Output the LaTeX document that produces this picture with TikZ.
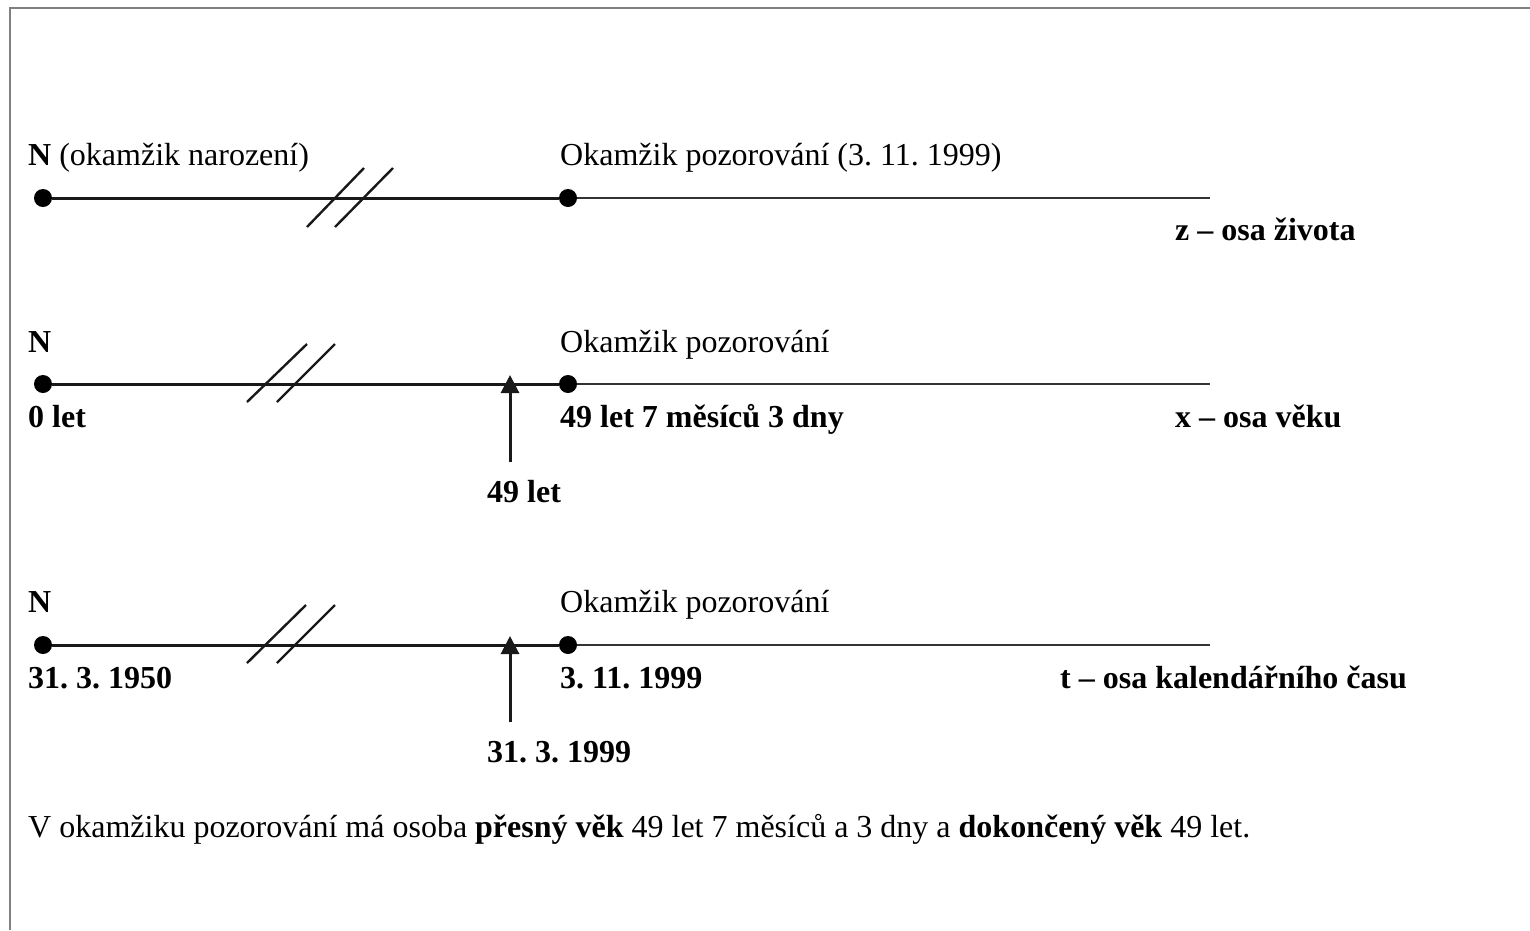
\documentclass[tikz,border=0pt]{standalone}
\usepackage{fontspec}
\setmainfont{Liberation Serif}
\usetikzlibrary{arrows.meta}
\frenchspacing
\begin{document}
\begin{tikzpicture}[x=1pt,y=-1pt,
  lbl/.style={anchor=base west,inner sep=0pt,font=\fontsize{32}{38}\selectfont},
  blbl/.style={anchor=base west,inner sep=0pt,font=\fontsize{32}{38}\selectfont\bfseries},
  dot/.style={circle,fill=black,minimum size=18pt,inner sep=0pt},
  axisL/.style={line width=3pt,black!90},
  axisR/.style={line width=2.6pt,black!80},
  brk/.style={line width=2.4pt,black!90},
  up/.style={line width=3pt,black!90,-{Triangle[length=18pt,width=18pt]}},
  frame/.style={line width=2pt,black!50}]
\useasboundingbox (0,0) rectangle (1530,930);
\draw[frame] (10,930) -- (10,8) -- (1530,8);

% ---- axis 1: z
\node[dot] (z0) at (43,198) {};
\node[dot] (z1) at (568,198) {};
\coordinate (zend) at (1210,198);
\draw[axisL] (z0) -- (z1);
\draw[axisR] (z1) -- (zend);
\draw[brk] (307,227) -- (364,168);
\draw[brk] (335,227) -- (393,168);
\node[lbl] (zN) at (28,165) {\textbf{N} (okamžik narození)};
\node[lbl] (zO) at (560,165) {Okamžik pozorování (3. 11. 1999)};
\node[blbl] (zax) at (1175,240) {z – osa života};

% ---- axis 2: x
\node[dot] (x0) at (43,384) {};
\node[dot] (x1) at (568,384) {};
\coordinate (xend) at (1210,384);
\draw[axisL] (x0) -- (x1);
\draw[axisR] (x1) -- (xend);
\draw[brk] (247,402) -- (307,344);
\draw[brk] (277,402) -- (335,344);
\node[blbl] (xN) at (28,352) {N};
\node[lbl] (xO) at (560,352) {Okamžik pozorování};
\node[blbl] (x0l) at (28,427) {0 let};
\node[blbl] (x1l) at (560,427) {49 let 7 měsíců 3 dny};
\node[blbl] (xax) at (1175,427) {x – osa věku};
\node[blbl] (x49) at (487,502) {49 let};
\coordinate (xa0) at (510,462);
\coordinate (xa1) at (510,375);
\draw[up] (xa0) -- (xa1);

% ---- axis 3: t
\node[dot] (t0) at (43,645) {};
\node[dot] (t1) at (568,645) {};
\coordinate (tend) at (1210,645);
\draw[axisL] (t0) -- (t1);
\draw[axisR] (t1) -- (tend);
\draw[brk] (247,663) -- (306,605);
\draw[brk] (277,663) -- (335,605);
\node[blbl] (tN) at (28,612) {N};
\node[lbl] (tO) at (560,612) {Okamžik pozorování};
\node[blbl] (t0l) at (28,688) {31. 3. 1950};
\node[blbl] (t1l) at (560,688) {3. 11. 1999};
\node[blbl] (tax) at (1060,688) {t – osa kalendářního času};
\node[blbl] (t99) at (487,762) {31. 3. 1999};
\coordinate (ta0) at (510,722);
\coordinate (ta1) at (510,636);
\draw[up] (ta0) -- (ta1);

% ---- sentence
\node[lbl] (sent) at (28,837) {V okamžiku pozorování má osoba \textbf{přesný věk} 49 let 7 měsíců a 3 dny a \textbf{dokončený věk} 49 let.};
\end{tikzpicture}
\end{document}
